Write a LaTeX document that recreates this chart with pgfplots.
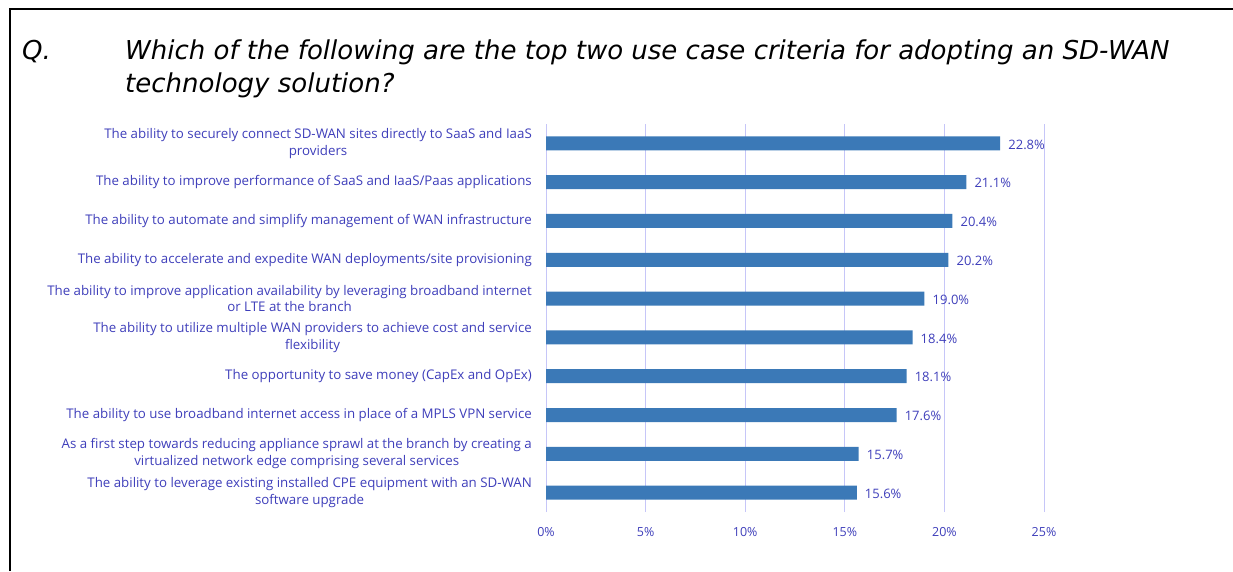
\documentclass[border=0pt]{standalone}
\usepackage{pgfplots}
\pgfplotsset{compat=1.18}
\usepackage{fontspec}
\setmainfont{Open Sans}
\newfontfamily\titlefont{DejaVu Sans}
\definecolor{barblue}{RGB}{59,121,183}
\definecolor{lblue}{RGB}{62,62,186}
\definecolor{gridc}{RGB}{198,198,248}
\begin{document}
\begin{tikzpicture}
\path[use as bounding box] (0,0) rectangle (1233pt,571pt);
\draw[line width=2.4pt] (10pt,0) -- (10pt,562pt) -- (1233pt,562pt);
\node[anchor=base west, inner sep=0pt, font={\titlefont\fontsize{26}{30}\selectfont\itshape}] at (22pt,511pt) {Q.};
\node[anchor=base west, inner sep=0pt, font={\titlefont\fontsize{26}{30}\selectfont\itshape}] at (125pt,511pt) {Which of the following are the top two use case criteria for adopting an SD-WAN};
\node[anchor=base west, inner sep=0pt, font={\titlefont\fontsize{26}{30}\selectfont\itshape}] at (125pt,478pt) {technology solution?};
\begin{axis}[
  at={(546pt,59pt)}, anchor=south west,
  scale only axis, width=498pt, height=388pt,
  xbar, bar width=14pt,
  xmin=0, xmax=25, ymin=-0.5, ymax=9.5,
  axis line style={draw=none},
  xmajorgrids, grid style={gridc, line width=0.8pt},
  major tick length=0pt,
  xtick={0,5,10,15,20,25},
  xticklabel={\pgfmathprintnumber{\tick}\%},
  /pgf/number format/assume math mode=true,
  xticklabel style={text=lblue, font={\fontsize{12.5}{14}\selectfont}, yshift=-12pt},
  ytick={0,1,2,3,4,5,6,7,8,9},
  yticklabels={
    {The ability to leverage existing installed CPE equipment with an SD-WAN\\software upgrade},
    {As a first step towards reducing appliance sprawl at the branch by creating a\\virtualized network edge comprising several services},
    {The ability to use broadband internet access in place of a MPLS VPN service},
    {The opportunity to save money (CapEx and OpEx)},
    {The ability to utilize multiple WAN providers to achieve cost and service\\flexibility},
    {The ability to improve application availability by leveraging broadband internet\\or LTE at the branch},
    {The ability to accelerate and expedite WAN deployments/site provisioning},
    {The ability to automate and simplify management of WAN infrastructure},
    {The ability to improve performance of SaaS and IaaS/Paas applications},
    {The ability to securely connect SD-WAN sites directly to SaaS and IaaS\\providers}
  },
  yticklabel style={align=center, text=lblue, font={\fontsize{13.3}{16.7}\selectfont}, anchor=east, inner sep=0pt, xshift=-14pt},
  nodes near coords={\pgfmathprintnumber[fixed,fixed zerofill,precision=1]{\pgfplotspointmeta}\%},
  nodes near coords align={horizontal},
  every node near coord/.append style={text=lblue, font={\fontsize{13}{14}\selectfont}, anchor=west, inner sep=0pt, xshift=8pt, yshift=-1pt},
]
\addplot[fill=barblue, draw=none] coordinates {
  (15.6,0) (15.7,1) (17.6,2) (18.1,3) (18.4,4) (19.0,5) (20.2,6) (20.4,7) (21.1,8) (22.8,9)
};
\end{axis}
\end{tikzpicture}
\end{document}
